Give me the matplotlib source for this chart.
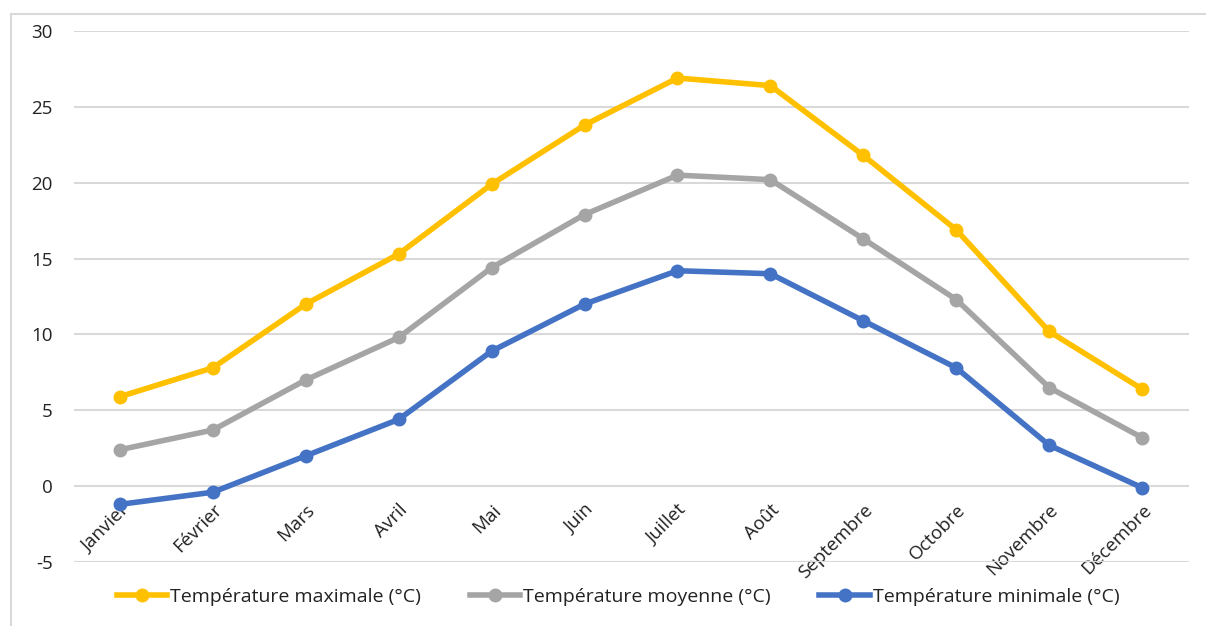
import matplotlib
matplotlib.use("Agg")
import matplotlib.pyplot as plt
from matplotlib.lines import Line2D

plt.rcParams['font.family'] = ['Open Sans', 'DejaVu Sans']

months = ["Janvier", "Février", "Mars", "Avril", "Mai", "Juin", "Juillet",
          "Août", "Septembre", "Octobre", "Novembre", "Décembre"]
t_max = [5.9, 7.8, 12.0, 15.3, 19.9, 23.8, 26.9, 26.4, 21.8, 16.9, 10.2, 6.4]
t_moy = [2.4, 3.7, 7.0, 9.8, 14.4, 17.9, 20.5, 20.2, 16.3, 12.3, 6.5, 3.2]
t_min = [-1.2, -0.4, 2.0, 4.4, 8.9, 12.0, 14.2, 14.0, 10.9, 7.8, 2.7, -0.1]
series_labels = ["Température maximale (°C)", "Température moyenne (°C)",
                 "Température minimale (°C)"]
colors = ["#FFC000", "#A5A5A5", "#4472C4"]
yticks = [-5, 0, 5, 10, 15, 20, 25, 30]

W, H = 1206, 626
FS = 13.5
fig = plt.figure(figsize=(W / 100, H / 100), dpi=100)
ax = fig.add_axes([73.5 / W, 1 - 562 / H, (1188.5 - 73.5) / W, (562 - 31) / H])

x = list(range(len(months)))
for vals, lab, c in zip([t_max, t_moy, t_min], series_labels, colors):
    ax.plot(x, vals, color=c, lw=4, marker='o', ms=9, label=lab,
            solid_capstyle='round', zorder=3)

ax.set_xlim(-0.5, len(months) - 0.5)
ax.set_ylim(-5, 30)
ax.set_yticks(yticks)
ax.set_yticklabels([str(v) for v in yticks], fontsize=FS, color='#222222')
ax.yaxis.grid(True, color='#D9D9D9', lw=1.5)
ax.set_axisbelow(True)
for s in ax.spines.values():
    s.set_visible(False)
ax.tick_params(axis='y', length=0, pad=15)
ax.tick_params(axis='x', length=0, pad=-44)
ax.set_xticks(x)
ax.set_xticklabels(months, rotation=45, ha='right', rotation_mode='anchor',
                   fontsize=FS, color='#222222')

handles = [Line2D([0], [0], color=c, lw=4, marker='o', ms=9) for c in colors]
fig.legend(handles, series_labels, loc='center', bbox_to_anchor=(618 / W, 1 - 597 / H),
           ncol=3, frameon=False, fontsize=14, handlelength=2.6,
           handletextpad=0.15, columnspacing=2.5, labelcolor='#222222')

# outer chart-area border
fig.add_artist(Line2D([11 / W, 1.0], [1 - 14 / H, 1 - 14 / H], color='#D9D9D9', lw=1.5,
                      transform=fig.transFigure))
fig.add_artist(Line2D([11 / W, 11 / W], [1 - 14 / H, 0], color='#D9D9D9', lw=1.5,
                      transform=fig.transFigure))

fig.savefig("out.png", dpi=100)
